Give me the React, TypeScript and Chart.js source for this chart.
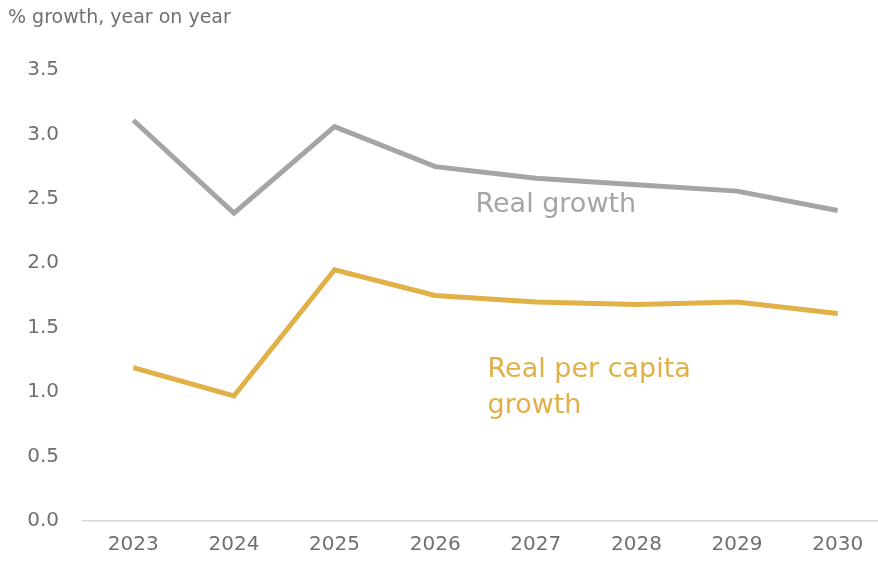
import React, { useEffect, useRef } from "react";
import { Chart, registerables } from "chart.js";

Chart.register(...registerables);

const years = ["2023", "2024", "2025", "2026", "2027", "2028", "2029", "2030"];
const realGrowth = [3.11, 2.39, 3.06, 2.75, 2.66, 2.61, 2.56, 2.41];
const perCapitaGrowth = [1.19, 0.97, 1.95, 1.75, 1.7, 1.68, 1.7, 1.61];
const axisTitle = "% growth, year on year";
const realLabel = ["Real growth"];
const perCapitaLabel = ["Real per capita", "growth"];

const GRAY = "#A5A5A5";
const GOLD = "#E1B046";
const TEXT = "#707070";
const FONT = "'DejaVu Sans', sans-serif";

const textPlugin = {
  id: "texts",
  afterDraw(chart: any) {
    const ctx = chart.ctx;
    const x = chart.scales.x;
    const y = chart.scales.y;
    ctx.save();
    ctx.textBaseline = "middle";
    ctx.textAlign = "left";
    ctx.fillStyle = TEXT;
    ctx.font = `19px ${FONT}`;
    ctx.fillText(axisTitle, 8, 18);
    ctx.font = `27px ${FONT}`;
    ctx.fillStyle = GRAY;
    const rx = x.getPixelForValue(3.4);
    realLabel.forEach((t, i) => ctx.fillText(t, rx, y.getPixelForValue(2.45) + i * 36));
    ctx.fillStyle = GOLD;
    const px = x.getPixelForValue(3.52);
    perCapitaLabel.forEach((t, i) => ctx.fillText(t, px, y.getPixelForValue(1.17) + i * 36));
    ctx.restore();
  },
};

export default function App() {
  const ref = useRef<HTMLCanvasElement>(null);
  useEffect(() => {
    if (!ref.current) return;
    const chart = new Chart(ref.current, {
      type: "line",
      data: {
        labels: years,
        datasets: [
          { label: "Real growth", data: realGrowth, borderColor: GRAY, borderWidth: 5, pointRadius: 0, tension: 0, fill: false },
          { label: "Real per capita growth", data: perCapitaGrowth, borderColor: GOLD, borderWidth: 5, pointRadius: 0, tension: 0, fill: false },
        ],
      },
      options: {
        responsive: false,
        animation: false,
        layout: { padding: { top: 70, right: 12, left: 0, bottom: 0 } },
        plugins: { legend: { display: false }, tooltip: { enabled: false } },
        scales: {
          x: {
            offset: true,
            grid: { display: false, drawTicks: false },
            border: { display: true, color: "#D9D9D9", width: 1.5 },
            ticks: { color: TEXT, font: { family: FONT, size: 20 }, padding: 12 },
            afterFit: (s: any) => { s.height = 47; },
          },
          y: {
            min: 0,
            max: 3.5,
            grid: { display: false, drawTicks: false },
            border: { display: false },
            ticks: {
              stepSize: 0.5,
              color: TEXT,
              font: { family: FONT, size: 20 },
              padding: 24,
              callback: (v: any) => Number(v).toFixed(1),
            },
            afterFit: (s: any) => { s.width = 83; },
          },
        },
      },
      plugins: [textPlugin],
    });
    return () => chart.destroy();
  }, []);
  return (
    <div style={{ position: "absolute", left: 0, top: 0, width: 878, height: 568, overflow: "hidden", background: "#fff" }}>
      <canvas ref={ref} width={900} height={568} style={{ width: 900, height: 568 }} />
    </div>
  );
}
